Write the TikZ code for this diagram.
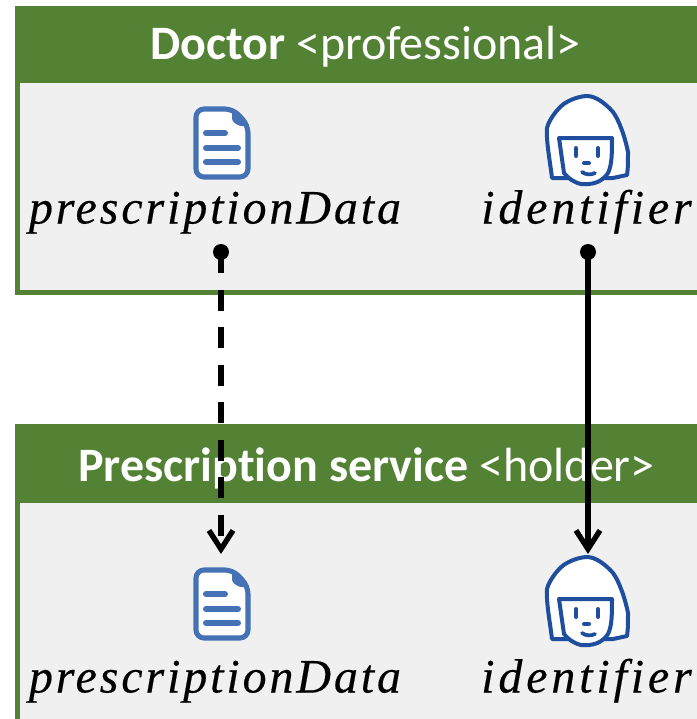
\documentclass[tikz,border=0pt]{standalone}
\usepackage{fontspec}
\setmainfont[Ligatures=NoCommon]{Carlito}
\newfontfamily\mathlike[LetterSpace=6,Ligatures=NoCommon,FakeBold=0.3]{Liberation Serif}
\newfontfamily\mathwide[LetterSpace=8,Ligatures=NoCommon,FakeBold=0.3]{Liberation Serif}
\usetikzlibrary{arrows.meta}
\definecolor{hdr}{HTML}{548235}
\definecolor{panel}{HTML}{F0F0F0}
\definecolor{docblue}{HTML}{4472B4}
\definecolor{faceblue}{HTML}{1F4E9E}
\tikzset{
  x=0.75pt,y=-0.75pt,
  panelbox/.style={draw=hdr,line width=3.75pt,fill=panel},
  headbar/.style={fill=hdr},
  headtext/.style={text=white,font=\fontsize{36}{40}\selectfont,inner sep=0pt,anchor=center},
  mathlabel/.style={font=\mathlike\itshape\fontsize{36}{40}\selectfont,inner sep=0pt,anchor=base},
  idlabel/.style={font=\mathwide\itshape\fontsize{36}{40}\selectfont,inner sep=0pt,anchor=base},
  flow/.style={line width=4.5pt,-{Straight Barb[length=14pt,width=18pt,line width=4pt]}},
  flowdash/.style={flow,dash pattern=on 15.75pt off 12.4pt},
  startdot/.style={circle,fill=black,inner sep=0pt,minimum size=12pt},
  docicon/.pic={
    \draw[docblue,line width=3.8pt,fill=white,line join=round,rounded corners=6pt]
      (-26,-34) -- (11,-34) -- (26,-18) -- (26,34) -- (-26,34) -- cycle;
    \fill[docblue,rounded corners=2pt] (10,-36) -- (28,-17) -- (17,-17) -- (10,-22) -- cycle;
    \draw[docblue,line width=4.5pt,line cap=round] (-16,-10) -- (3,-10) (-16,5) -- (16,5) (-16,19) -- (16,19);
  },
  faceicon/.pic={
    \draw[faceblue,line width=3pt,fill=white,line join=round]
      (-36,37) .. controls (-38,20) and (-42,0) .. (-41,-13)
      .. controls (-39,-22) and (-28,-36) .. (-21,-39)
      .. controls (-14,-43) and (-6,-45) .. (-1,-45)
      .. controls (8,-45) and (18,-37) .. (25,-29)
      .. controls (31,-21) and (37,-4) .. (40,11)
      .. controls (40,20) and (40,28) .. (39,34)
      -- (25,37) -- (-17,37) -- cycle;
    \draw[faceblue,line width=3pt,fill=white,line join=round]
      (-29,-3) -- (24,-3) .. controls (24,12) and (24,24) .. (20,32)
      .. controls (14,41) and (5,44) .. (-7,43)
      .. controls (-15,41) and (-20,37) .. (-24,32) -- cycle;
    \draw[faceblue,line width=3pt,line cap=round]
      (-12,7) -- (-12,15) (10,7) -- (10,15);
    \draw[faceblue,line width=3pt,line cap=round] (-4,22) -- (1,22);
    \draw[faceblue,line width=2.8pt,line cap=round] (-6,31) .. controls (-2,34) and (3,34) .. (7,32);
  }
}
\begin{document}
\begin{tikzpicture}
\useasboundingbox (0,0) rectangle (697,719);
\clip (0,0) rectangle (697,719);
% Doctor panel
\draw[panelbox] (17.5,8) rectangle (720,292);
\fill[headbar] (15,6) rectangle (697,83);
\node[headtext] (doctorhead) at (365.5,47) {\textbf{Doctor} <professional>};
\pic at (222,143) {docicon};
\pic at (588,141) {faceicon};
\node[mathlabel] (docdataA) at (215,223.5) {prescriptionData};
\node[idlabel] (docidA) at (586.5,223.5) {identifier};
% Prescription service panel
\draw[panelbox] (17.5,426) rectangle (720,740);
\fill[headbar] (15,424) rectangle (697,503);
\node[headtext] (holderhead) at (366.5,468) {\textbf{Prescription service} <holder>};
\pic at (222,604) {docicon};
\pic at (588,602) {faceicon};
\node[mathlabel] (docdataB) at (215,692.5) {prescriptionData};
\node[idlabel] (docidB) at (586.5,692.5) {identifier};
% connectors
\node[startdot] (dotA) at (221,252) {};
\node[startdot] (dotB) at (588,252) {};
\coordinate (tipA) at (221,554);
\coordinate (tipB) at (588,554);
\draw[flowdash] (dotA.center) -- (tipA);
\draw[flow] (dotB.center) -- (tipB);
\end{tikzpicture}
\end{document}
